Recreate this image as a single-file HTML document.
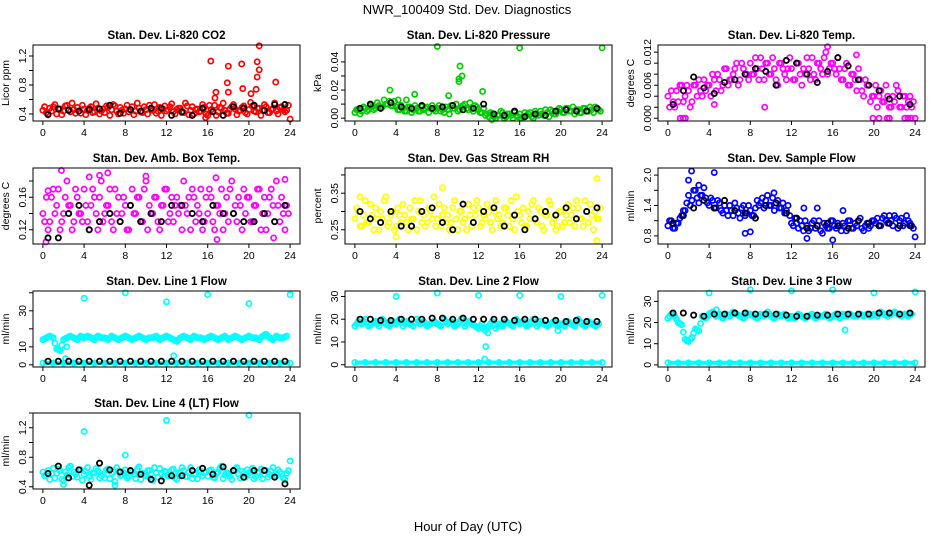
<!DOCTYPE html>
<html><head><meta charset="utf-8"><style>
html,body{margin:0;padding:0;background:#fff;}
svg{display:block;font-family:"Liberation Sans",Arial,sans-serif;}
</style></head><body>
<svg id="chart" width="936" height="540" viewBox="0 0 936 540">
<text x="467" y="14" font-size="13" text-anchor="middle">NWR_100409  Std. Dev. Diagnostics</text>
<text x="468" y="531" font-size="13" text-anchor="middle">Hour of Day (UTC)</text>
</svg>
<script>
// ---- shared data ----
const xTicks = [0,4,8,12,16,20,24];
const blackHours = [0.5,1.5,2.5,3.5,4.5,5.5,6.5,7.5,8.5,9.5,10.5,11.5,12.5,13.5,14.5,15.5,16.5,17.5,18.5,19.5,20.5,21.5,22.5,23.5];
const lowHours = [0,1,2,3,4,5,6,7,8,9,10,11,12,13,14,15,16,17,18,19,20,21,22,23,24];
const lowLine = [1,1,1,1,1,1,1,1,1,1,1,1,1,1,1,1,1,1,1,1,1,1,1,1,1];

// CO2
const co2 = [.45,.42,.48,.50,.40,.47,.44,.52,.43,.46,.49,.41,.47,.45,.50,.43,.48,.44,.42,.49,.46,.51,.40,.45,.47,.43,.50,.44,.48,.42,.46,.52,.45,.41,.49,.47,.44,.50,.43,.46,.48,.42,.51,.45,.40,.47,.44,.49,.38,.46,.52,.43,.48,.45,.41,.50,.47,.44,.49,.42,.46,.51,.43,.48,.45,.50,.42,.47,.44,.49,.46,.45];
const co2b = [.50,.40,.44,.53,.47,.39,.51,.46,.55,.41,.44,.52,.39,.48,.42,.54,.40,.47,.51,.38,.53,.44,.49,.41,.52,.46,.39,.55,.43,.50,.40,.47,.53,.44,.38,.51,.46,.54,.40,.48,.42,.55,.39,.50,.46,.43,.53,.40,.52,.44,.38,.49,.55,.41,.47,.53,.39,.45,.51,.40,.56,.44,.48,.38,.53,.42,.46,.55,.40,.50,.43,.52];
const co2OutX = [16.3,16.7,16.8,17.9,18.0,18.0,19.3,19.4,20.2,20.7,20.8,20.8,21.0,21.0,22.6,24,15.8];
const co2OutY = [1.13,0.62,0.70,0.83,0.70,1.06,1.09,0.75,0.68,0.74,0.91,1.12,1.01,1.34,0.84,0.33,0.35];
const co2Black = [.39,.47,.45,.44,.46,.47,.52,.41,.46,.44,.48,.48,.38,.43,.38,.48,.43,.38,.50,.48,.52,.45,.53,.53];
// Pressure
const pres = [.004,.006,.005,.007,.006,.008,.007,.009,.008,.010,.012,.009,.008,.006,.007,.005,.008,.006,.007,.005,.006,.008,.007,.006,.007,.005,.004,.006,.009,.007,.005,.008,.010,.006,.007,.009,.006,.004,.002,.001,.003,.000,.002,.004,.001,.003,.000,.002,.003,.001,.002,.004,.000,.003,.005,.002,.004,.006,.003,.005,.006,.004,.007,.005,.003,.006,.004,.007,.005,.006,.008,.006];
const presb = [.006,.003,.008,.005,.009,.006,.011,.008,.013,.010,.009,.012,.006,.009,.005,.008,.004,.009,.005,.008,.007,.004,.009,.005,.009,.006,.008,.003,.007,.010,.006,.009,.007,.011,.005,.008,.004,.007,.003,.004,.001,.002,.005,.000,.003,.002,.004,.001,.000,.004,.003,.001,.005,.002,.003,.006,.001,.005,.003,.007,.004,.007,.005,.008,.006,.004,.007,.005,.008,.004,.007,.005];
const presOutX = [3.4,4.2,5.0,5.8,8,9.1,10.1,10.1,10.2,10.4,12.4,16,24,13.3];
const presOutY = [.020,.013,.013,.017,.051,.016,.028,.026,.037,.030,.019,.050,.050,-.001];
const presBlack = [.007,.010,.007,.011,.008,.007,.009,.007,.008,.009,.006,.007,.010,.003,.002,.005,.001,.003,.002,.005,.006,.005,.005,.007];
// Temp
const temp = [.004,.005,.002,.003,.006,.004,.005,.003,.006,.007,.004,.005,.006,.008,.005,.007,.006,.009,.007,.008,.010,.007,.009,.008,.010,.008,.009,.011,.007,.010,.008,.009,.006,.010,.008,.009,.009,.007,.010,.006,.008,.009,.011,.007,.010,.008,.012,.009,.010,.008,.009,.007,.010,.006,.008,.005,.007,.004,.006,.003,.004,.002,.005,.003,.004,.002,.003,.005,.002,.004,.003,.002];
const tempb = [.002,.003,.005,.006,.003,.006,.002,.006,.004,.005,.007,.006,.004,.007,.008,.005,.009,.006,.007,.009,.006,.010,.008,.007,.008,.011,.007,.009,.010,.008,.011,.007,.010,.009,.007,.011,.007,.010,.008,.009,.011,.007,.008,.010,.009,.011,.008,.010,.009,.011,.007,.009,.006,.008,.007,.009,.005,.007,.006,.004,.006,.004,.003,.006,.002,.004,.006,.002,.004,.002,.004,.003];
const tempOutX = [1.2,1.5,1.7,19.9,20.5,21.3,21.5,23,23.3,23.6,24,9.4,4.5,15.5,18.3];
const tempOutY = [0,0,0,0,0,0,0,0,0,0,0,.002,.0025,.013,.0115];
const tempBlack = [.0025,.005,.0075,.0055,.0045,.0065,.0070,.0080,.0090,.0085,.0060,.0105,.0100,.0080,.0065,.0085,.0110,.0095,.0070,.0060,.0050,.0035,.0040,.0025];
// Amb box temp
const amb = [.14,.16,.13,.17,.15,.12,.14,.18,.15,.13,.16,.14,.17,.13,.15,.16,.12,.18,.14,.15,.13,.17,.16,.14,.15,.12,.17,.14,.16,.13,.18,.15,.14,.16,.12,.15,.17,.14,.13,.16,.15,.18,.14,.12,.16,.15,.17,.13,.14,.16,.12,.15,.17,.14,.13,.18,.15,.16,.12,.14,.16,.13,.15,.17,.14,.12,.16,.15,.18,.13,.14,.15];
const ambb = [.13,.12,.16,.14,.17,.13,.16,.15,.12,.17,.14,.13,.15,.12,.17,.14,.16,.13,.15,.17,.12,.14,.13,.16,.12,.15,.14,.16,.13,.17,.12,.14,.16,.13,.15,.17,.13,.16,.15,.14,.12,.15,.16,.17,.13,.14,.12,.16,.17,.13,.15,.14,.12,.16,.17,.14,.13,.15,.17,.16,.13,.15,.17,.12,.16,.14,.17,.13,.15,.16,.12,.14];
const ambOutX = [.3,1.8,4.5,5.5,6.3,10.0,16.8,16.9,22.4,23.5,0.5];
const ambOutY = [.105,.193,.185,.187,.190,.186,.184,.108,.110,.182,.168];
const ambBlack = [.11,.11,.14,.15,.12,.13,.14,.13,.15,.13,.14,.13,.15,.15,.14,.13,.15,.14,.14,.13,.13,.14,.13,.15];
// RH
const rh = [.28,.30,.26,.33,.27,.29,.31,.25,.28,.34,.27,.30,.26,.29,.32,.27,.31,.28,.25,.33,.29,.27,.30,.34,.28,.26,.31,.29,.27,.33,.25,.30,.28,.32,.26,.29,.31,.27,.28,.30,.25,.33,.29,.27,.31,.26,.28,.34,.29,.31,.26,.28,.33,.27,.30,.25,.29,.32,.28,.26,.30,.27,.32,.29,.26,.31,.28,.33,.27,.29,.30,.28];
const rhb = [.31,.26,.29,.27,.32,.25,.28,.30,.33,.26,.29,.25,.31,.27,.29,.25,.28,.33,.30,.27,.26,.31,.28,.26,.32,.29,.27,.25,.31,.28,.30,.27,.25,.29,.31,.33,.26,.29,.32,.27,.30,.28,.26,.31,.29,.33,.25,.30,.27,.26,.30,.32,.28,.31,.26,.29,.33,.27,.25,.30,.26,.29,.27,.31,.33,.28,.26,.30,.32,.25,.28,.31];
const rhOutX = [23.5,23.5,8.5,.5,4];
const rhOutY = [.39,.22,.365,.34,.23];
const rhBlack = [.30,.28,.27,.30,.26,.26,.30,.31,.27,.25,.32,.27,.30,.31,.26,.29,.25,.28,.30,.29,.31,.28,.30,.31];
// Sample flow
const samp = [1.0,1.1,0.95,1.05,1.2,1.3,1.6,1.5,1.7,1.45,1.6,1.55,1.4,1.5,1.35,1.45,1.25,1.3,1.4,1.2,1.35,1.15,1.4,1.25,1.3,1.2,1.5,1.45,1.35,1.6,1.4,1.3,1.5,1.35,1.25,1.4,1.05,1.15,0.95,1.0,1.1,0.9,1.05,0.95,1.1,0.85,1.0,0.95,1.1,0.95,1.0,1.05,0.9,1.1,0.95,1.0,1.15,0.9,1.05,1.0,1.1,1.15,1.0,1.2,1.05,1.1,1.2,0.95,1.15,1.05,1.1,1.0];
const sampb = [1.1,0.95,1.05,1.15,1.3,1.45,1.4,1.7,1.55,1.6,1.75,1.45,1.55,1.35,1.5,1.3,1.4,1.2,1.3,1.45,1.25,1.35,1.2,1.4,1.2,1.35,1.4,1.55,1.5,1.4,1.55,1.45,1.35,1.45,1.3,1.2,1.0,1.05,1.1,0.9,1.0,0.95,1.1,1.0,0.9,1.05,0.95,1.1,1.0,1.05,0.9,1.0,1.1,0.95,1.05,1.1,0.95,1.0,0.95,1.1,1.05,1.0,1.15,1.1,1.2,1.0,1.15,1.1,1.0,1.2,1.05,0.95];
const sampOutX = [2.3,4.5,2.0,3.0,7.5,8,10.3,13.5,16,24,17,13.2,14.5];
const sampOutY = [2.08,2.05,1.9,1.8,0.85,0.88,1.65,0.75,0.72,0.78,1.3,1.35,1.35];
const sampBlack = [1.05,1.2,1.35,1.5,1.35,1.5,1.3,1.25,1.15,1.4,1.45,1.25,1.15,0.95,1.0,1.05,1.0,0.95,1.1,1.05,1.0,1.05,1.0,1.0];
// Line 1
const l1 = [14,15,16,15,9,8,14,15,16,15,14,16,15,16,15,14,16,15,15,14,16,15,14,15,16,15,14,15,16,15,14,15,15,16,14,15,16,15,14,13,15,16,15,14,16,15,15,14,15,16,15,14,15,16,14,15,16,15,14,15,16,15,15,14,16,17,15,14,16,15,15,16];
const l1OutX = [4,8,12,16,20,24,12.7,2.2,2.3];
const l1OutY = [37,40,35,39,34,39,5,3.5,10];
const l1Black = [2,2,2,2,2,2,2,2,2,2,2,2,2,2,2,2,2,2,2,2,2,2,2,2];
// Line 2
const l2 = [17,19,18,20,17,18,19,17,20,18,17,19,18,20,17,19,18,17,20,18,19,17,18,19,18,17,20,18,19,17,18,20,17,19,18,17,16,18,15,17,19,16,18,17,19,18,17,20,18,19,17,18,20,17,19,18,17,18,19,17,18,17,19,18,17,20,18,17,19,18,17,18];
const l2OutX = [4,8,12,16,20,24,12.7,12.9,12.6,19.7];
const l2OutY = [30,31.5,30.5,30.5,30,30.5,8,14,2.5,15];
const l2Black = [20,20,19.5,19.5,20,20,20,20.5,20.5,20,20.5,20,20,20,20,19.5,20,20,19.5,19.5,19,19.5,19,19];
// Line 3
const l3 = [22,24,23,20,19,12,11,13,17,16,23,22,24,25,23,24,22,24,23,25,24,23,22,24,24,23,22,24,23,25,23,22,24,23,24,22,23,22,24,23,22,23,24,22,23,23,24,22,23,24,22,24,23,24,23,23,24,23,24,23,24,23,25,24,23,24,25,24,23,24,23,24];
const l3OutX = [4,8,12,16,20,24,17.2,4.7];
const l3OutY = [34,35.5,35,35.5,34,34.5,16.5,26];
const l3Black = [24.5,24.5,23.5,23,24,24,24.5,24.5,24,24,24,23.5,23,23,23.5,23.5,24,24,24,24,24.5,24.5,24,24.5];
// Line 4
const l4 = [.60,.55,.50,.65,.58,.62,.48,.56,.68,.60,.53,.63,.57,.66,.50,.59,.62,.55,.52,.64,.58,.47,.61,.56,.63,.54,.60,.51,.67,.58,.55,.62,.49,.59,.65,.53,.60,.56,.64,.50,.58,.62,.54,.66,.57,.51,.61,.59,.55,.63,.52,.60,.68,.56,.58,.50,.64,.57,.61,.53,.59,.65,.54,.60,.51,.62,.57,.66,.55,.60,.52,.58];
const l4b = [.55,.62,.58,.52,.64,.50,.60,.66,.54,.57,.63,.49,.61,.54,.59,.65,.52,.57,.63,.51,.60,.66,.55,.59,.52,.61,.57,.64,.50,.56,.62,.58,.66,.53,.57,.61,.55,.63,.52,.59,.66,.54,.60,.51,.58,.63,.55,.60,.62,.53,.58,.65,.51,.59,.54,.62,.66,.52,.58,.63,.56,.51,.60,.64,.57,.53,.61,.55,.63,.58,.50,.62];
const l4OutX = [4,12,20,8,24,2,7];
const l4OutY = [1.15,1.3,1.37,.83,.75,.43,.42];
const l4Black = [.58,.68,.52,.63,.42,.72,.63,.60,.62,.57,.50,.48,.55,.55,.62,.65,.57,.67,.62,.53,.62,.62,.53,.44];

// ticks
const co2Ticks=[0.4,0.6,0.8,1.0,1.2], co2Labels=["0.4","","0.8","","1.2"];
const presTicks=[0,0.01,0.02,0.03,0.04], presLabels=["0.00","","0.02","","0.04"];
const tempTicks=[0,0.002,0.004,0.006,0.008,0.010,0.012], tempLabels=["0.000","","","0.006","","","0.012"];
const ambTicks=[0.12,0.14,0.16,0.18], ambLabels=["0.12","","0.16",""];
const rhTicks=[0.25,0.30,0.35,0.40], rhLabels=["0.25","","0.35",""];
const sampTicks=[0.8,1.1,1.4,1.7,2.0], sampLabels=["0.8","","1.4","","2.0"];
const l1Ticks=[0,10,20,30,40], l1Labels=["0","10","","30",""];
const l23Ticks=[0,10,20,30], l23Labels=["0","10","20","30"];
const l4Ticks=[0.4,0.6,0.8,1.0,1.2,1.4], l4Labels=["0.4","","0.8","","1.2",""];

const NS="http://www.w3.org/2000/svg";
const svg=document.getElementById('chart');
function mk(tag,attrs,parent){const e=document.createElementNS(NS,tag);for(const k in attrs)e.setAttribute(k,attrs[k]);(parent||svg).appendChild(e);return e;}

const colLeft=[33,345,658], rowTop=[45,168,291,413], W=267, H=76;
const panels=[
 {key:'co2',title:'Stan. Dev. Li-820 CO2',ylab:'Licor ppm',c:0,r:0,ymin:0.303,ymax:1.352,col:'#ff0000',main:co2,main2:co2b,ox:co2OutX,oy:co2OutY,blk:co2Black,ticks:co2Ticks,labels:co2Labels},
 {key:'pressure',title:'Stan. Dev. Li-820 Pressure',ylab:'kPa',c:1,r:0,ymin:-0.002,ymax:0.052,col:'#00cd00',main:pres,main2:presb,ox:presOutX,oy:presOutY,blk:presBlack,ticks:presTicks,labels:presLabels},
 {key:'temp',title:'Stan. Dev. Li-820 Temp.',ylab:'degrees C',c:2,r:0,ymin:-0.0005,ymax:0.0133,col:'#ff00ff',main:temp,main2:tempb,ox:tempOutX,oy:tempOutY,blk:tempBlack,ticks:tempTicks,labels:tempLabels},
 {key:'amb',title:'Stan. Dev. Amb. Box Temp.',ylab:'degrees C',c:0,r:1,ymin:0.1025,ymax:0.196,col:'#ff00ff',main:amb,main2:ambb,ox:ambOutX,oy:ambOutY,blk:ambBlack,ticks:ambTicks,labels:ambLabels},
 {key:'rh',title:'Stan. Dev. Gas Stream RH',ylab:'percent',c:1,r:1,ymin:0.211,ymax:0.419,col:'#ffff00',main:rh,main2:rhb,ox:rhOutX,oy:rhOutY,blk:rhBlack,ticks:rhTicks,labels:rhLabels},
 {key:'sample',title:'Stan. Dev. Sample Flow',ylab:'ml/min',c:2,r:1,ymin:0.64,ymax:2.14,col:'#0000ff',main:samp,main2:sampb,ox:sampOutX,oy:sampOutY,blk:sampBlack,ticks:sampTicks,labels:sampLabels},
 {key:'line1',title:'Stan. Dev. Line 1 Flow',ylab:'ml/min',c:0,r:2,ymin:-1.2,ymax:41,col:'#00ffff',main:l1,ox:l1OutX,oy:l1OutY,blk:l1Black,ticks:l1Ticks,labels:l1Labels,low:true},
 {key:'line2',title:'Stan. Dev. Line 2 Flow',ylab:'ml/min',c:1,r:2,ymin:-1,ymax:32.4,col:'#00ffff',main:l2,ox:l2OutX,oy:l2OutY,blk:l2Black,ticks:l23Ticks,labels:l23Labels,low:true},
 {key:'line3',title:'Stan. Dev. Line 3 Flow',ylab:'ml/min',c:2,r:2,ymin:-1,ymax:34.9,col:'#00ffff',main:l3,ox:l3OutX,oy:l3OutY,blk:l3Black,ticks:l23Ticks,labels:l23Labels,low:true},
 {key:'line4',title:'Stan. Dev. Line 4 (LT) Flow',ylab:'ml/min',c:0,r:3,ymin:0.37,ymax:1.4,col:'#00ffff',main:l4,main2:l4b,ox:l4OutX,oy:l4OutY,blk:l4Black,ticks:l4Ticks,labels:l4Labels}
];

panels.forEach(p=>{
  const L=colLeft[p.c], T=rowTop[p.r], B=T+H;
  const g=mk('g',{});
  
  
  const sx=v=>L+(v+0.96)/25.92*W;
  const sy=v=>B-(v-p.ymin)/(p.ymax-p.ymin)*H;
  const t=mk('text',{x:L+W/2,y:T-6,'font-size':11.5,'font-weight':'bold','text-anchor':'middle'},g);
  t.textContent=p.title;
  
  
  const yl=mk('text',{transform:`translate(${L-24},${T+H/2}) rotate(-90)`,'font-size':10.5,'text-anchor':'middle'},g);
  yl.textContent=p.ylab;
  
  
  // points
  const pts=mk('g',{fill:'none',stroke:p.col,'stroke-width':1.7},g);
  
  
  if(p.low){ lowHours.forEach((h,i)=>{mk('circle',{cx:sx(h),cy:sy(lowLine[i]),r:2.6},pts);});
    mk('line',{x1:sx(lowHours[0]),x2:sx(lowHours[lowHours.length-1]),y1:sy(lowLine[0]),y2:sy(lowLine[0]),'stroke-width':4},pts);}
  p.main.forEach((v,i)=>{const c=mk('circle',{cx:sx(i/3),cy:sy(v),r:2.6},pts);});
  if(p.main2){
    p.main2.forEach((v,i)=>{const c=mk('circle',{cx:sx(i/3+1/6),cy:sy(v),r:2.6},pts);});
  } else {
    p.main.forEach((v,i)=>{ if(i<p.main.length-1){ mk('circle',{cx:sx(i/3+1/6),cy:sy((v+p.main[i+1])/2),r:2.6},pts);} });
  }
  p.ox.forEach((x,i)=>{const c=mk('circle',{cx:sx(x),cy:sy(p.oy[i]),r:2.6},pts);});
  const bl=mk('g',{fill:'none',stroke:'#000','stroke-width':1.8},g);
  
  
  p.blk.forEach((v,i)=>{mk('circle',{cx:sx(blackHours[i]),cy:sy(v),r:2.6},bl);});
  // box
  const box=mk('rect',{x:L,y:T,width:W,height:H,fill:'none',stroke:'#000','stroke-width':1},g);
  
  
  // x axis
  const xa=mk('g',{stroke:'#000','stroke-width':1},g);
  
  
  mk('line',{x1:sx(xTicks[0]),x2:sx(xTicks[xTicks.length-1]),y1:B,y2:B},xa);
  xTicks.forEach(v=>{mk('line',{x1:sx(v),x2:sx(v),y1:B,y2:B+4},xa);
    const tl=mk('text',{x:sx(v),y:B+15,'font-size':10.5,'text-anchor':'middle',stroke:'none'},xa);tl.textContent=v;});
  // y axis
  const ya=mk('g',{stroke:'#000','stroke-width':1},g);
  
  
  const tk=p.ticks.filter(v=>v>=p.ymin&&v<=p.ymax);
  mk('line',{x1:L,x2:L,y1:sy(tk[0]),y2:sy(tk[tk.length-1])},ya);
  p.ticks.forEach((v,i)=>{ if(v<p.ymin||v>p.ymax)return;
    mk('line',{x1:L-4,x2:L,y1:sy(v),y2:sy(v)},ya);
    if(p.labels[i]){const tl=mk('text',{transform:`translate(${L-7},${sy(v)}) rotate(-90)`,'font-size':10.5,'text-anchor':'middle',stroke:'none'},ya);tl.textContent=p.labels[i];}
  });
});
</script>
</body></html>
